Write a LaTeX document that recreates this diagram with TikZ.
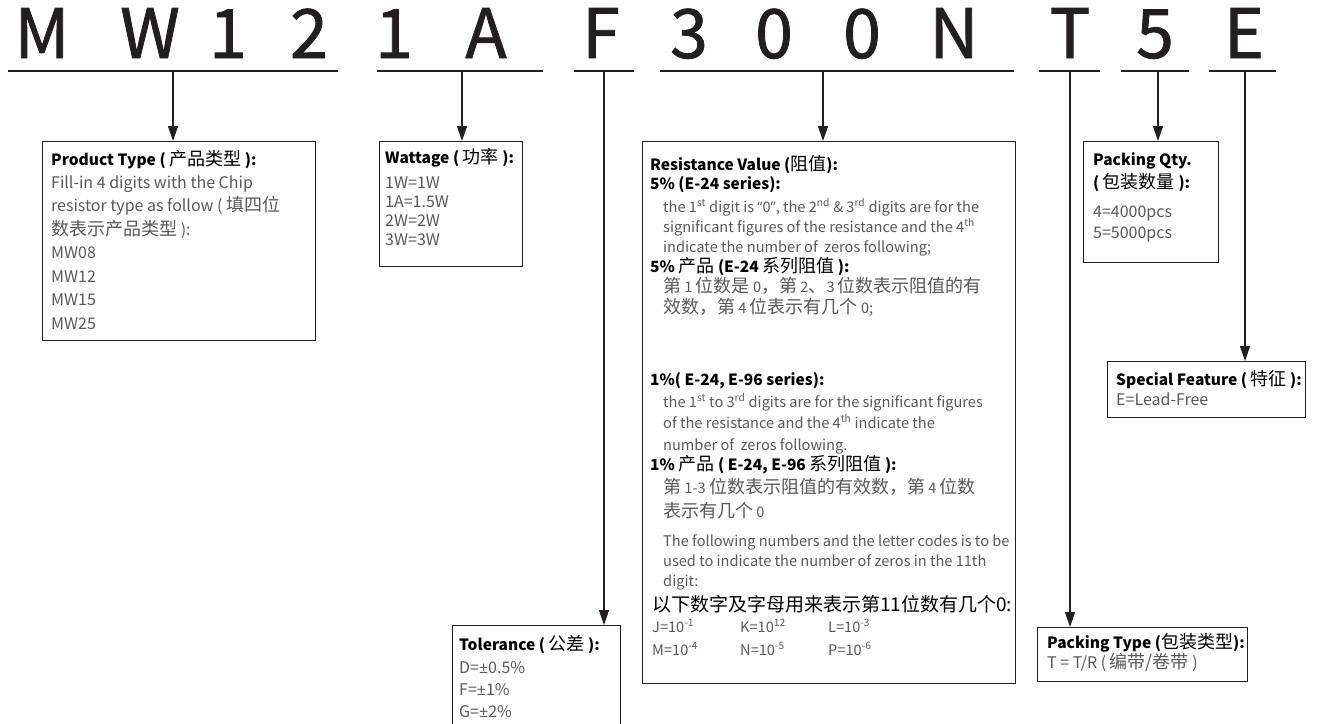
\documentclass[tikz,border=0pt]{standalone}
\usepackage{fontspec}
\setmainfont{Noto Sans CJK SC}
\newfontfamily\bigf[FakeBold=1.2]{Noto Sans CJK SC}
\newfontfamily\qf{Open Sans}
\usetikzlibrary{arrows.meta}
\definecolor{ink}{HTML}{231F20}
\definecolor{txt}{HTML}{585858}
\tikzset{
  bigch/.style={font=\bigf\fontsize{68}{72}\selectfont, text=ink, inner sep=0pt, anchor=base},
  uline/.style={line width=1.3pt, draw=ink},
  conn/.style={line width=1.3pt, draw=ink, -{Triangle[width=10pt,length=15pt]}},
  box/.style={draw=ink, line width=1.2pt, inner sep=0pt, anchor=north west},
  hd/.style={font=\fontsize{15.5}{19}\selectfont\bfseries, text=black, inner sep=0pt, anchor=base west},
  bd/.style={font=\fontsize{16}{19}\selectfont, text=txt, inner sep=0pt, anchor=base west},
  rb/.style={font=\fontsize{14.6}{18}\selectfont, text=txt, inner sep=0pt, anchor=base west},
  lg/.style={font=\fontsize{19}{22}\selectfont, text=black, inner sep=0pt, anchor=base west},
}
\newcommand{\sups}[1]{\textsuperscript{#1}}
\newcommand{\zh}[1]{{\fontsize{18}{18}\selectfont\mdseries #1}}
\newcommand{\plmi}{{\qf ±}}
\begin{document}
\begin{tikzpicture}[x=1pt,y=-1pt]
\useasboundingbox (0,0) rectangle (1320,723);
% big code letters
\node[bigch] (c1) at (42,58) {M};
\node[bigch] (c2) at (150,58) {W};
\node[bigch] (c3) at (228,58) {1};
\node[bigch] (c4) at (309,58) {2};
\node[bigch] (c5) at (394,58) {1};
\node[bigch] (c6) at (486,58) {A};
\node[bigch] (c7) at (601,58) {F};
\node[bigch] (c8) at (689,58) {3};
\node[bigch] (c9) at (774,58) {0};
\node[bigch] (c10) at (862,58) {0};
\node[bigch] (c11) at (954,58) {N};
\node[bigch] (c12) at (1070,58) {T};
\node[bigch] (c13) at (1155,58) {5};
\node[bigch] (c14) at (1244,58) {E};
% underline end points and ticks
\coordinate (u1a) at (8,71);    \coordinate (u1b) at (338,71);
\coordinate (u2a) at (377,71);  \coordinate (u2b) at (543,71);
\coordinate (u3a) at (574,71);  \coordinate (u3b) at (634,71);
\coordinate (u4a) at (660,71);  \coordinate (u4b) at (1014,71);
\coordinate (u5a) at (1039,71); \coordinate (u5b) at (1100,71);
\coordinate (u6a) at (1121,71); \coordinate (u6b) at (1189,71);
\coordinate (u7a) at (1209,71); \coordinate (u7b) at (1276,71);
\coordinate (t1) at (173,71);
\coordinate (t2) at (462,71);
\coordinate (t3) at (604,71);
\coordinate (t4) at (823,71);
\coordinate (t5) at (1070,71);
\coordinate (t6) at (1158,71);
\coordinate (t7) at (1245,71);
\foreach \i in {1,...,7} { \draw[uline] (u\i a) -- (u\i b); }
% boxes
\node[box, minimum width=273pt, minimum height=199pt] (ptbox) at (42,141) {};
\node[box, minimum width=143pt, minimum height=125pt] (wbox) at (379,141) {};
\node[box, minimum width=373pt, minimum height=542pt] (rbox) at (642,141) {};
\node[box, minimum width=168pt, minimum height=120pt] (tbox) at (452,625) {};
\node[box, minimum width=135pt, minimum height=121pt] (qbox) at (1083,141) {};
\node[box, minimum width=198pt, minimum height=56pt] (sbox) at (1107,361) {};
\node[box, minimum width=210pt, minimum height=54pt] (ybox) at (1037,627) {};
% connectors
\draw[conn] (t1) -- (t1 |- ptbox.north);
\draw[conn] (t2) -- (t2 |- wbox.north);
\draw[conn] (t3) -- (t3 |- tbox.north);
\draw[conn] (t4) -- (t4 |- rbox.north);
\draw[conn] (t5) -- (t5 |- ybox.north);
\draw[conn] (t6) -- (t6 |- qbox.north);
\draw[conn] (t7) -- (t7 |- sbox.north);
% Product type
\node[hd] (p0) at (51,165) {Product Type ( \zh{产品类型} ):};
\node[bd] (p1) at (51,188) {Fill-in 4 digits with the Chip};
\node[bd] (p2) at (51,211.5) {resistor type as follow ( \zh{填四位}};
\node[bd] (p3) at (51,235) {\zh{数表示产品类型} ):};
\node[bd] (p4) at (51,258.5) {MW08};
\node[bd] (p5) at (51,282) {MW12};
\node[bd] (p6) at (51,305.5) {MW15};
\node[bd] (p7) at (51,329) {MW25};
% Wattage
\node[hd] (w0) at (385,163) {Wattage ( \zh{功率} ):};
\node[bd] (w1) at (385,188) {1W=1W};
\node[bd] (w2) at (385,207) {1A=1.5W};
\node[bd] (w3) at (385,226) {2W=2W};
\node[bd] (w4) at (385,245) {3W=3W};
% Resistance value
\node[hd] (r0) at (650,170) {Resistance Value (\zh{阻值}):};
\node[hd] (r1) at (650,189) {5\% (E-24 series):};
\node[rb] (r2) at (663,212) {the 1\sups{st} digit is {\qf“}0{\qf”}, the 2\sups{nd} \& 3\sups{rd} digits are for the};
\node[rb] (r3) at (663,232) {significant figures of the resistance and the 4\sups{th}};
\node[rb] (r4) at (663,252) {indicate the number of\ \ zeros following;};
\node[hd] (r5) at (650,272) {5\% \zh{产品} (E-24 \zh{系列阻值} ):};
\node[rb] (r6) at (663,292) {\zh{第} 1 \zh{位数是} 0\zh{，第} 2\zh{、}3 \zh{位数表示阻值的有}};
\node[rb] (r7) at (663,313) {\zh{效数，第} 4 \zh{位表示有几个} 0;};
\node[hd] (r8) at (650,385) {1\%( E-24, E-96 series):};
\node[rb] (r9) at (663,407) {the 1\sups{st} to 3\sups{rd} digits are for the significant figures};
\node[rb] (r10) at (663,428) {of the resistance and the 4\sups{th} indicate the};
\node[rb] (r11) at (663,450) {number of\ \ zeros following.};
\node[hd] (r12) at (650,470) {1\% \zh{产品} ( E-24, E-96 \zh{系列阻值} ):};
\node[rb] (r13) at (663,493) {\zh{第} 1-3 \zh{位数表示阻值的有效数，第} 4 \zh{位数}};
\node[rb] (r14) at (663,517) {\zh{表示有几个} 0};
\node[rb] (r15) at (663,546) {The following numbers and the letter codes is to be};
\node[rb] (r16) at (663,566) {used to indicate the number of zeros in the 11th};
\node[rb] (r17) at (663,586) {digit:};
\node[lg] (r18) at (652,611) {以下数字及字母用来表示第11位数有几个0:};
\node[rb] (j1) at (652,632) {J=10\sups{-1}};
\node[rb] (j2) at (740,632) {K=10\sups{12}};
\node[rb] (j3) at (828,632) {L=10\sups{-3}};
\node[rb] (j4) at (652,655) {M=10\sups{-4}};
\node[rb] (j5) at (740,655) {N=10\sups{-5}};
\node[rb] (j6) at (828,655) {P=10\sups{-6}};
% Tolerance
\node[hd] (o0) at (459,650) {Tolerance ( \zh{公差} ):};
\node[bd] (o1) at (459,673) {D=\plmi0.5\%};
\node[bd] (o2) at (459,695) {F=\plmi1\%};
\node[bd] (o3) at (459,717) {G=\plmi2\%};
% Packing qty
\node[hd] (q0) at (1093,165) {Packing Qty.};
\node[hd] (q1) at (1093,188) {( \zh{包装数量} ):};
\node[bd] (q2) at (1093,217) {4=4000pcs};
\node[bd] (q3) at (1093,238) {5=5000pcs};
% Special feature
\node[hd] (s0) at (1116,385) {Special Feature ( \zh{特征} ):};
\node[bd] (s1) at (1116,405) {E=Lead-Free};
% Packing type
\node[hd] (y0) at (1047,648) {Packing Type (\zh{包装类型}):};
\node[bd] (y1) at (1047,668) {T = T/R ( \zh{编带/卷带} )};
\end{tikzpicture}
\end{document}
